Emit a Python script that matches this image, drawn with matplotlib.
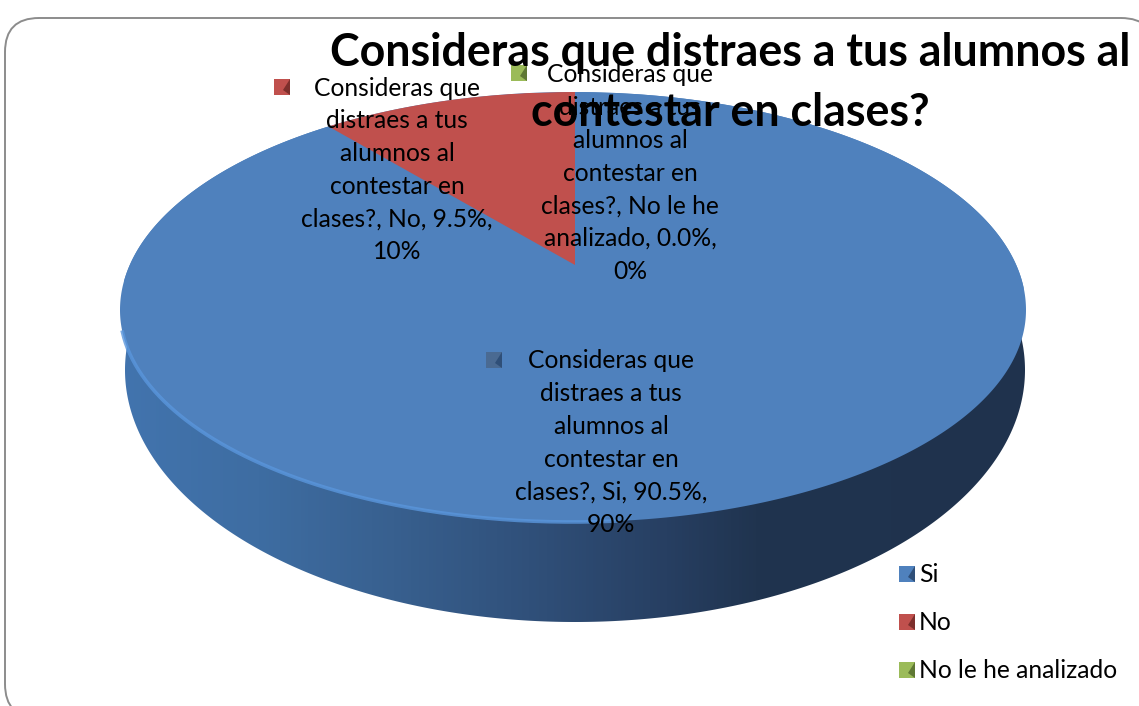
import numpy as np
import matplotlib.pyplot as plt
from matplotlib.colors import LinearSegmentedColormap
from matplotlib.patches import FancyBboxPatch, Polygon, Rectangle

# datos
title_lines = ['Consideras que distraes a tus alumnos al', 'contestar en clases?']
categories = ['Si', 'No', 'No le he analizado']
values = [90.5, 9.5, 0.0]
rounded = [90, 10, 0]
colors = ['#4f81bd', '#c0504d', '#9bbb59']
dark_colors = ['#2f4f78', '#7d2f2c', '#5f7834']

label_wraps = [
    ['Consideras que', 'distraes a tus', 'alumnos al', 'contestar en', 'clases?, {c}, {v}%,', '{r}%'],
    ['Consideras que', 'distraes a tus', 'alumnos al', 'contestar en', 'clases?, {c}, {v}%,', '{r}%'],
    ['Consideras que', 'distraes a tus', 'alumnos al', 'contestar en', 'clases?, No le he', 'analizado, {v}%,', '{r}%'],
]
label_pos = [(611, 361), (397, 88), (630, 75)]
marker_pos = [(494, 360), (282, 87), (519, 73)]
legend_y = [574, 622, 670]

plt.rcParams['font.family'] = ['Lato', 'DejaVu Sans']

W, H = 1139, 706
fig = plt.figure(figsize=(W / 100, H / 100), dpi=100)


def pixel_axes(zorder):
    a = fig.add_axes([0, 0, 1, 1], zorder=zorder)
    a.set_xlim(0, W)
    a.set_ylim(H, 0)
    a.axis('off')
    a.patch.set_alpha(0)
    return a


def square(a, cx, cy, face, dark, size=16):
    a.add_patch(Rectangle((cx - size / 2, cy - size / 2), size, size, fc=face, ec='none'))
    a.add_patch(Polygon([(cx + size / 2, cy - size / 2), (cx + size / 2, cy + size / 2),
                         (cx + 1, cy + 3)], fc=dark, ec='none'))


# marco y cuerpo del pastel
base = pixel_axes(1)
base.add_patch(FancyBboxPatch((5, 18), 1150, 700, boxstyle='round,pad=0,rounding_size=34',
                              fc='white', ec='#8c8c8c', lw=1.4))

t = np.linspace(0, 2 * np.pi, 721)
cx, rx = 573, 453
upper = np.sin(t) >= 0
body_x = cx + rx * np.cos(t)
body_y = np.where(upper, 310 - 218 * np.sin(t), 310 - 212 * np.sin(t))

# pared lateral con degradado
side_x = 575 + 450 * np.cos(t)
side_y = 370 - 252 * np.sin(t)
side_cmap = LinearSegmentedColormap.from_list(
    'side', [(0, '#4274ae'), (0.15, '#3e6da2'), (0.3, '#38608f'), (0.45, '#30507a'),
             (0.6, '#273f62'), (0.7, '#20344f'), (1, '#1f324d')])
grad = np.linspace(0, 1, 256).reshape(1, -1)
im = base.imshow(grad, extent=(120, 1030, 630, 280), cmap=side_cmap, aspect='auto', zorder=1.5)
base.set_xlim(0, W)
base.set_ylim(H, 0)
im.set_clip_path(Polygon(np.column_stack([side_x, side_y]), transform=base.transData))

base.add_patch(Polygon(np.column_stack([body_x, body_y]), fc=colors[0], ec='none', zorder=1.6))
front = (np.sin(t) <= -0.1) & (np.cos(t) <= 0.1)
base.plot(body_x[front], body_y[front], color='#5a96dc', lw=2.6, alpha=0.8, zorder=1.7)

# pastel
ry = 173
pie_ax = fig.add_axes([(575 - 1.25 * rx) / W, 1 - (265 + 1.25 * ry) / H,
                       2.5 * rx / W, 2.5 * ry / H], zorder=2)
wedges, _ = pie_ax.pie(values, colors=colors, startangle=90, counterclock=False, radius=1)
pie_ax.set_aspect('auto')
pie_ax.set_xlim(-1.25, 1.25)
pie_ax.set_ylim(-1.25, 1.25)
pie_ax.patch.set_alpha(0)
for w in wedges:
    w.set_clip_on(True)
    w.set_clip_path(Polygon(np.column_stack([body_x, body_y]), transform=base.transData))

# textos
top = pixel_axes(3)
for i, cat in enumerate(categories):
    lines = [s.format(c=cat, v=f'{values[i]:.1f}', r=rounded[i]) for s in label_wraps[i]]
    x, y0 = label_pos[i]
    for k, line in enumerate(lines):
        top.text(x, y0 + k * 32.7, line, ha='center', va='center', fontsize=17.7, color='black')
    mx, my = marker_pos[i]
    square(top, mx, my, colors[i] if i else '#4a6a92', dark_colors[i])
    square(top, 907, legend_y[i], colors[i], dark_colors[i])
    top.text(919, legend_y[i], cat, ha='left', va='center', fontsize=17.7, color='black')

for k, line in enumerate(title_lines):
    top.text(730, 53 + k * 60, line, ha='center', va='center', fontsize=32.2,
             fontweight='bold', color='black')

fig.savefig('out.png', dpi=100)
